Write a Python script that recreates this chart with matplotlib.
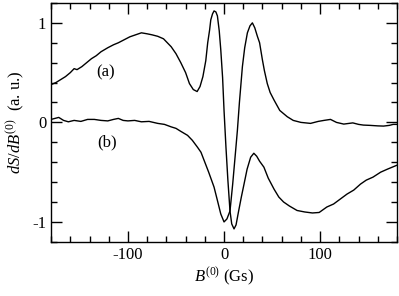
import matplotlib
matplotlib.use("Agg")
import matplotlib.pyplot as plt
from matplotlib.ticker import MultipleLocator

plt.rcParams['font.family'] = ['Liberation Serif', 'DejaVu Serif']
plt.rcParams['mathtext.fontset'] = 'custom'
plt.rcParams['mathtext.rm'] = 'Liberation Serif'
plt.rcParams['mathtext.it'] = 'Liberation Serif:italic'
plt.rcParams['axes.unicode_minus'] = False

# curve (a): field (Gs) vs signal
field_a = [-180, -175, -170, -165, -160, -156, -153, -148, -143, -138, -133, -128,
           -121, -115, -110, -104, -98, -92, -86, -80, -75, -69, -63, -59, -55,
           -50, -45, -40, -36, -32, -28, -25, -22, -19, -17, -15, -13.8, -12, -10.4,
           -8.5, -6.9, -5, -3.4, -1.5, 0, 2, 4, 6.2, 8, 10.4, 12.5, 15, 18, 20.8,
           24, 27.7, 31, 34, 37, 41.5, 46, 52, 57, 62, 68, 76, 84, 92, 99, 107,
           114, 121, 128, 135, 142, 148, 155, 163, 170, 175, 180]
signal_a = [0.38, 0.40, 0.43, 0.46, 0.50, 0.54, 0.53, 0.56, 0.60, 0.64, 0.67, 0.71,
            0.75, 0.78, 0.80, 0.83, 0.86, 0.88, 0.90, 0.89, 0.88, 0.865, 0.84, 0.80, 0.76,
            0.69, 0.60, 0.50, 0.39, 0.33, 0.31, 0.36, 0.46, 0.62, 0.80, 0.93, 1.03, 1.09, 1.12,
            1.11, 1.07, 0.92, 0.73, 0.45, 0.12, -0.25, -0.58, -0.89, -1.02, -1.07, -1.03, -0.90, -0.75, -0.62,
            -0.47, -0.35, -0.31, -0.34, -0.39, -0.45, -0.56, -0.67, -0.75, -0.80, -0.84, -0.885, -0.90, -0.91, -0.905, -0.85,
            -0.82, -0.77, -0.72, -0.68, -0.62, -0.58, -0.55, -0.50, -0.47, -0.45, -0.43]

# curve (b)
field_b = [-180, -176, -172, -167, -162, -156, -149, -142, -135, -128, -121, -115,
           -110, -105, -100, -93, -86, -78, -69, -62, -55, -50, -45, -38, -33, -27.6,
           -24, -20.8, -16, -10.4, -7, -3.4, 0, 3, 6.2, 9, 12.1, 13.9, 16, 19.1, 21.5,
           24.3, 27, 29.5, 32, 34.7, 37, 39.9, 42, 45, 48, 52, 58, 65.8, 72, 80,
           90, 98, 104, 110.8, 117, 124.6, 134, 140, 145, 152, 160, 166, 172, 176, 180]
signal_b = [0.03, 0.04, 0.05, 0.02, 0.006, 0.02, 0.01, 0.03, 0.03, 0.02, 0.015, 0.03,
            0.04, 0.02, 0.015, 0.02, 0.006, 0.01, -0.01, -0.02, -0.045, -0.06, -0.09, -0.13, -0.18, -0.25,
            -0.30, -0.38, -0.50, -0.65, -0.78, -0.92, -1.0, -0.97, -0.89, -0.62, -0.28, -0.08, 0.20, 0.56, 0.75,
            0.90, 0.97, 1.0, 0.95, 0.865, 0.80, 0.63, 0.52, 0.39, 0.30, 0.225, 0.12, 0.057, 0.02, 0.0,
            -0.01, 0.01, 0.02, 0.03, 0.0, -0.017, -0.005, -0.02, -0.027, -0.03, -0.035, -0.037, -0.03, -0.02, -0.02]

fig = plt.figure(figsize=(3.99, 2.96), dpi=100)
ax = fig.add_axes([0.128, 0.183, 0.867, 0.807])

ax.plot(field_a, signal_a, color='black', lw=1.0)
ax.plot(field_b, signal_b, color='black', lw=1.0)

ax.text(-123, 0.5, '(a)', fontsize=12, ha='center', va='center')
ax.text(-122, -0.2, '(b)', fontsize=12, ha='center', va='center')

ax.set_xlim(-180, 180)
ax.set_ylim(-1.2, 1.2)
ax.xaxis.set_major_locator(MultipleLocator(100))
ax.xaxis.set_minor_locator(MultipleLocator(20))
ax.yaxis.set_major_locator(MultipleLocator(1))
ax.yaxis.set_minor_locator(MultipleLocator(0.2))
ax.tick_params(which='both', direction='in', top=True, right=True, labelsize=12, width=1)
ax.tick_params(which='major', length=8)
ax.tick_params(which='minor', length=4)
for s in ax.spines.values():
    s.set_linewidth(1)

ax.set_xlabel(r'$B^{\mathrm{(0)}}$ (Gs)', fontsize=12, labelpad=2)
ax.set_ylabel(r'$dS/dB^{\mathrm{(0)}}$  (a. u.)', fontsize=12, labelpad=4)

fig.savefig('out.png', dpi=100)
